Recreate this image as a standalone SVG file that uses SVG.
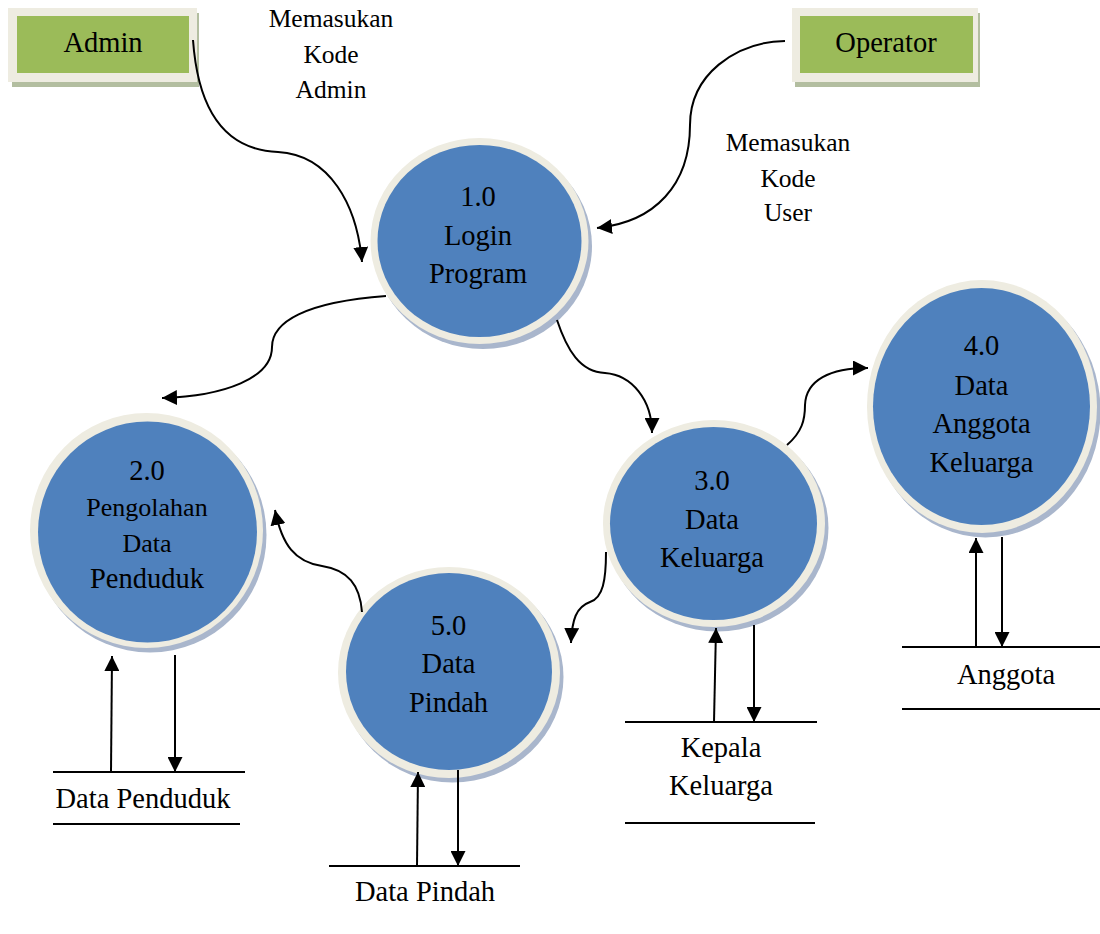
<svg xmlns="http://www.w3.org/2000/svg" width="1100" height="934" viewBox="0 0 1100 934">
<style>
.t{font-family:"Liberation Serif","Times New Roman",serif;font-size:28.5px;fill:#000;text-anchor:middle}
.s{font-size:26px}
.l{font-size:25.5px}
.sh{fill:#a9b6cc}
.ring{fill:#eeece1}
.core{fill:#4f81bd}
.bsh{fill:#b3bea0}
.bring{fill:#eeece1}
.bcore{fill:#9bbb59}
.c{fill:none;stroke:#000;stroke-width:2;marker-end:url(#ah)}
.ds{stroke:#000;stroke-width:2}
</style>
<defs>
<marker id="ah" markerUnits="userSpaceOnUse" markerWidth="15" markerHeight="15" refX="15" refY="7.5" orient="auto">
<path d="M0,0 L15,7.5 L0,15 z" fill="#000"/>
</marker>
</defs>

<g id="admin">
<rect class="bsh" x="12" y="13" width="187" height="74"/>
<rect class="bring" x="8" y="8" width="189" height="74"/>
<rect class="bcore" x="17" y="16" width="172" height="57"/>
<text class="t" x="103" y="52">Admin</text>
</g>

<g id="operator">
<rect class="bsh" x="795" y="13" width="185" height="74"/>
<rect class="bring" x="792" y="8" width="186" height="74"/>
<rect class="bcore" x="800" y="16" width="173" height="57"/>
<text class="t" x="886" y="52">Operator</text>
</g>

<g id="p1">
<ellipse class="sh" cx="483" cy="246" rx="109" ry="103"/>
<ellipse class="ring" cx="479.5" cy="241" rx="109" ry="103"/>
<ellipse class="core" cx="479.5" cy="241" rx="102" ry="96"/>
<text class="t" x="478" y="206">1.0</text>
<text class="t" x="478" y="245">Login</text>
<text class="t" x="478" y="283">Program</text>
</g>

<g id="p2">
<ellipse class="sh" cx="150" cy="535" rx="116.5" ry="117.5"/>
<ellipse class="ring" cx="146.5" cy="530.5" rx="116.5" ry="117.5"/>
<ellipse class="core" cx="147.5" cy="532" rx="109.5" ry="110.5"/>
<text class="t" x="147" y="480">2.0</text>
<text class="t s" x="147" y="516">Pengolahan</text>
<text class="t s" x="147" y="552">Data</text>
<text class="t" x="147" y="588">Penduduk</text>
</g>

<g id="p3">
<ellipse class="sh" cx="717.5" cy="528" rx="111" ry="103.5"/>
<ellipse class="ring" cx="714" cy="523.5" rx="111" ry="103.5"/>
<ellipse class="core" cx="713.5" cy="523.5" rx="103.5" ry="96.5"/>
<text class="t" x="712" y="490">3.0</text>
<text class="t" x="712" y="529">Data</text>
<text class="t" x="712" y="567">Keluarga</text>
</g>

<g id="p4">
<ellipse class="sh" cx="985.5" cy="411" rx="115" ry="126.5"/>
<ellipse class="ring" cx="982" cy="406.5" rx="115" ry="126.5"/>
<ellipse class="core" cx="981.5" cy="406.5" rx="108.5" ry="118.5"/>
<text class="t" x="981.5" y="355">4.0</text>
<text class="t" x="981.5" y="395">Data</text>
<text class="t" x="981.5" y="433">Anggota</text>
<text class="t" x="981.5" y="472">Keluarga</text>
</g>

<g id="p5">
<ellipse class="sh" cx="452.5" cy="677" rx="111" ry="105.5"/>
<ellipse class="ring" cx="449" cy="672.5" rx="111" ry="105.5"/>
<ellipse class="core" cx="449" cy="671.5" rx="103" ry="98.5"/>
<text class="t" x="448.5" y="635">5.0</text>
<text class="t" x="448.5" y="673">Data</text>
<text class="t" x="448.5" y="712">Pindah</text>
</g>

<g id="labels">
<text class="t l" x="331" y="27">Memasukan</text>
<text class="t l" x="331" y="63">Kode</text>
<text class="t l" x="331" y="98">Admin</text>
<text class="t l" x="788" y="151">Memasukan</text>
<text class="t l" x="788" y="187">Kode</text>
<text class="t l" x="788" y="221">User</text>
</g>

<g id="store-penduduk">
<line class="ds" x1="53" y1="772" x2="245" y2="772"/>
<line class="ds" x1="53" y1="824" x2="240" y2="824"/>
<text class="t" x="143" y="808">Data Penduduk</text>
</g>

<g id="store-pindah">
<line class="ds" x1="329" y1="866" x2="520" y2="866"/>
<text class="t" x="425" y="901">Data Pindah</text>
</g>

<g id="store-kepala">
<line class="ds" x1="625" y1="722" x2="817" y2="722"/>
<line class="ds" x1="625" y1="823" x2="815" y2="823"/>
<text class="t" x="721" y="757">Kepala</text>
<text class="t" x="721" y="795">Keluarga</text>
</g>

<g id="store-anggota">
<line class="ds" x1="902" y1="647" x2="1100" y2="647"/>
<line class="ds" x1="902" y1="709" x2="1100" y2="709"/>
<text class="t" x="1006" y="684">Anggota</text>
</g>

<g id="connectors">
<path class="c" d="M193,40 C198,110 225,150 278,152 C330,155 357,205 362,262"/>
<path class="c" d="M785,41 C735,42 690,75 690,125 C690,185 655,222 597,228"/>
<path class="c" d="M386,296 C305,302 272,322 272,347 C272,378 225,396 162,398"/>
<path class="c" d="M557,320 C567,350 580,372 605,373 C632,375 652,400 652,433"/>
<path class="c" d="M787,445 C802,432 805,420 805,405 C806,380 830,368 868,368"/>
<path class="c" d="M606,552 C606,580 603,598 590,602 C576,607 572,620 571,643"/>
<path class="c" d="M362,612 C360,585 348,570 322,566 C295,562 282,545 275,510"/>
<path class="c" d="M111,772 L112,656"/>
<path class="c" d="M175,655 L175,772"/>
<path class="c" d="M417,866 L418,772"/>
<path class="c" d="M458,770 L458,866"/>
<path class="c" d="M714,722 L716,628"/>
<path class="c" d="M754,625 L754,722"/>
<path class="c" d="M976,647 L976,538"/>
<path class="c" d="M1002,537 L1002,647"/>
</g>
</svg>
